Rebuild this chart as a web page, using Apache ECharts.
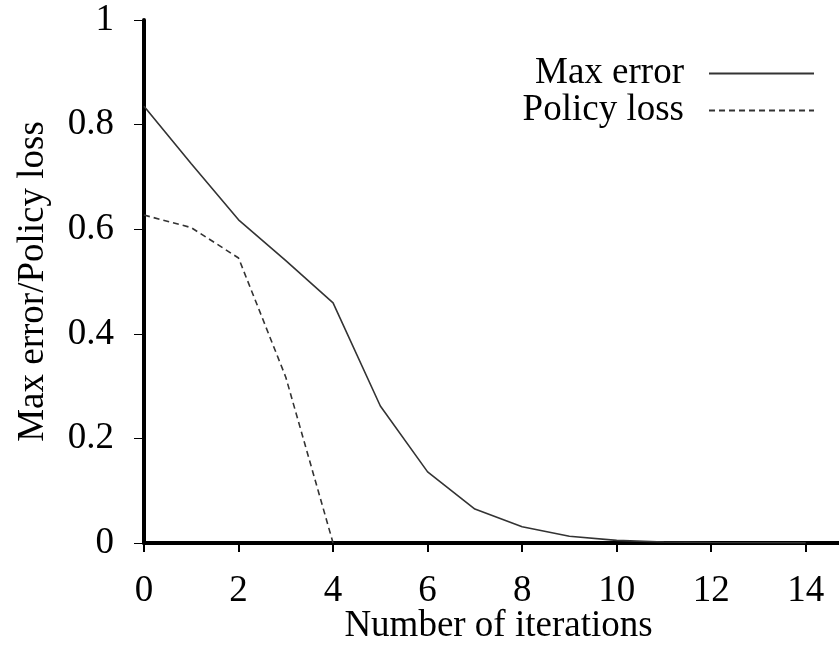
<!DOCTYPE html>
<html>
<head>
<meta charset="utf-8">
<script src="https://cdn.jsdelivr.net/npm/echarts@6/dist/echarts.min.js"></script>
<style>
  html, body { margin: 0; padding: 0; background: #fff; }
  #chart { width: 839px; height: 663px; }
</style>
</head>
<body>
<div id="chart"></div>
<script>
const iterations = [0, 1, 2, 3, 4, 5, 6, 7, 8, 9, 10, 11, 12, 13, 14]
const maxError = [0.835, 0.725, 0.618, 0.54, 0.459, 0.262, 0.136, 0.065, 0.031, 0.013, 0.005, 0.002, 0.001, 0.0005, 0.0002]
const policyLoss = [0.627, 0.603, 0.545, 0.317, 0]
const xTicks = [0, 2, 4, 6, 8, 10, 12, 14]
const yTicks = [0, 0.2, 0.4, 0.6, 0.8, 1]

const font = 'Liberation Serif'
const fontSize = 37

const myChart = echarts.init(document.getElementById('chart'))

myChart.setOption({
  animation: false,
  grid: {
    left: 144,
    top: 20,
    right: -14,
    bottom: 120,
    containLabel: false,
    outerBoundsMode: 'none',
  },
  legend: {
    orient: 'vertical',
    align: 'right',
    right: 19,
    top: 50,
    itemWidth: 105,
    itemHeight: 14,
    itemGap: 0,
    itemStyle: { opacity: 0 },
    textStyle: {
      fontFamily: font,
      fontSize: fontSize,
      color: '#000',
      lineHeight: 36,
      padding: [0, 20, 0, 0],
    },
    data: ['Max error', 'Policy loss'],
  },
  xAxis: {
    type: 'value',
    min: 0,
    max: 15,
    interval: 2,
    name: 'Number of iterations',
    nameLocation: 'middle',
    nameGap: 65,
    nameMoveOverlap: false,
    nameTextStyle: { fontFamily: font, fontSize: fontSize, color: '#000' },
    axisLine: { onZero: false, lineStyle: { color: '#000', width: 4 } },
    axisTick: { show: true, length: 9, lineStyle: { color: '#000', width: 2 } },
    axisLabel: {
      fontFamily: font,
      fontSize: fontSize,
      color: '#000',
      margin: 30,
      formatter: (v) => (xTicks.includes(v) ? String(v) : ''),
    },
    splitLine: { show: false },
  },
  yAxis: {
    type: 'value',
    min: 0,
    max: 1,
    interval: 0.2,
    name: 'Max error/Policy loss',
    nameLocation: 'middle',
    nameGap: 92,
    nameMoveOverlap: false,
    nameTextStyle: { fontFamily: font, fontSize: fontSize, color: '#000' },
    axisLine: { show: true, lineStyle: { color: '#000', width: 4 } },
    axisTick: { show: true, length: 10, lineStyle: { color: '#000', width: 1 } },
    axisLabel: {
      fontFamily: font,
      fontSize: fontSize,
      color: '#000',
      margin: 30,
      formatter: (v) => {
        const t = yTicks.find((y) => Math.abs(y - v) < 1e-9)
        return t === undefined ? '' : String(t)
      },
    },
    splitLine: { show: false },
  },
  series: [
    {
      name: 'Max error',
      type: 'line',
      symbol: 'none',
      color: '#333',
      lineStyle: { color: '#333', width: 1.6, type: 'solid' },
      data: iterations.map((x, i) => [x, maxError[i]]),
      z: 1,
    },
    {
      name: 'Policy loss',
      type: 'line',
      symbol: 'none',
      color: '#333',
      lineStyle: { color: '#333', width: 1.6, type: [6, 4] },
      data: policyLoss.map((y, i) => [iterations[i], y]),
      z: 1,
    },
  ],
})
</script>
</body>
</html>
